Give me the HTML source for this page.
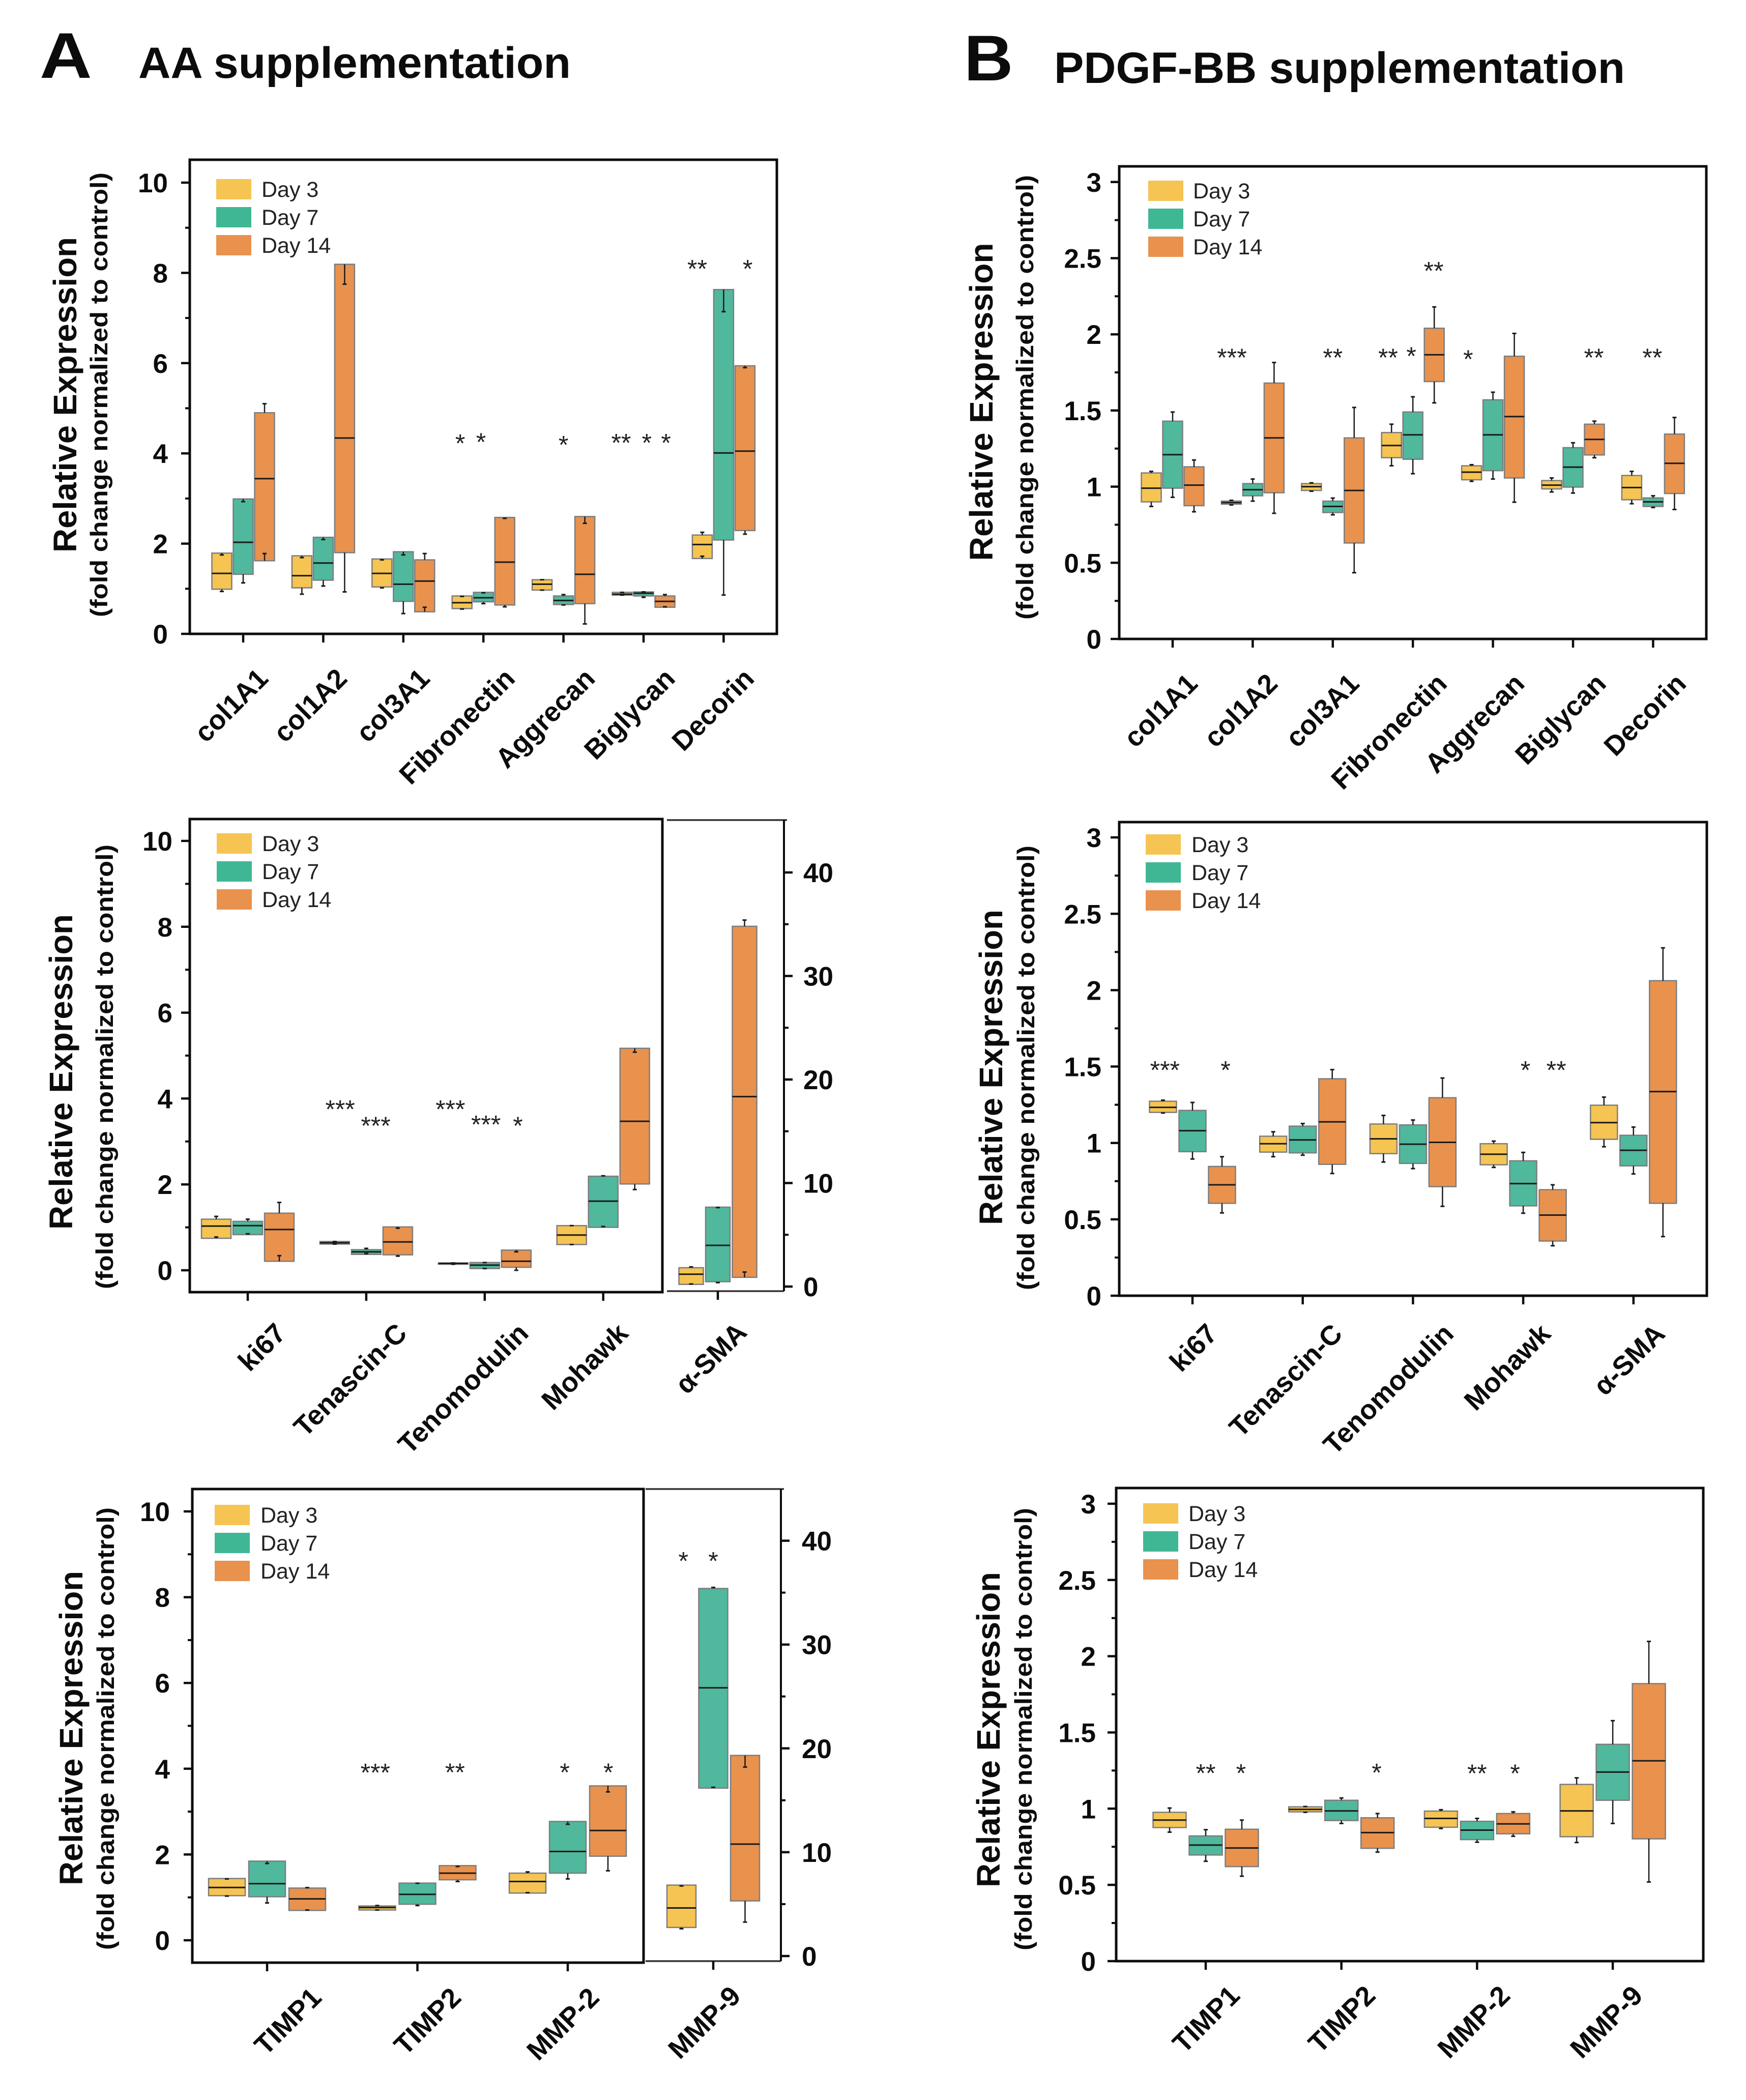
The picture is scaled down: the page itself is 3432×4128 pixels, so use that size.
<!DOCTYPE html>
<html lang="en">
<head>
<meta charset="utf-8">
<title>AA and PDGF-BB supplementation relative expression</title>
<style>
html,body{margin:0;padding:0;background:#fff;}
svg{display:block;font-family:"Liberation Sans",Arial,sans-serif;}
.b{font-weight:700;fill:#0c0c0c;}
</style>
</head>
<body>
<svg id="figure" xmlns="http://www.w3.org/2000/svg" width="3432" height="4128" viewBox="0 0 3432 4128">
<rect x="0" y="0" width="3432" height="4128" fill="#fff"/>
<text class="b" transform="translate(78,153) scale(1.12,1)" font-size="127">A</text>
<text class="b" x="272" y="153" font-size="86" textLength="850" lengthAdjust="spacingAndGlyphs">AA supplementation</text>
<text class="b" transform="translate(1895,158) scale(1.05,1)" font-size="127">B</text>
<text class="b" x="2072" y="163" font-size="86" textLength="1122" lengthAdjust="spacingAndGlyphs">PDGF-BB supplementation</text>

<text class="b" transform="translate(150,776) rotate(-90)" text-anchor="middle" font-size="64" textLength="620" lengthAdjust="spacingAndGlyphs">Relative Expression</text>
<text class="b" transform="translate(211,776) rotate(-90)" text-anchor="middle" font-size="47" textLength="874" lengthAdjust="spacingAndGlyphs">(fold change normalized to control)</text>
<text class="b" transform="translate(142,2107) rotate(-90)" text-anchor="middle" font-size="64" textLength="620" lengthAdjust="spacingAndGlyphs">Relative Expression</text>
<text class="b" transform="translate(222,2097) rotate(-90)" text-anchor="middle" font-size="47" textLength="874" lengthAdjust="spacingAndGlyphs">(fold change normalized to control)</text>
<text class="b" transform="translate(162,3397) rotate(-90)" text-anchor="middle" font-size="64" textLength="618" lengthAdjust="spacingAndGlyphs">Relative Expression</text>
<text class="b" transform="translate(224,3398) rotate(-90)" text-anchor="middle" font-size="47" textLength="870" lengthAdjust="spacingAndGlyphs">(fold change normalized to control)</text>
<text class="b" transform="translate(1951,790) rotate(-90)" text-anchor="middle" font-size="64" textLength="625" lengthAdjust="spacingAndGlyphs">Relative Expression</text>
<text class="b" transform="translate(2031,781) rotate(-90)" text-anchor="middle" font-size="47" textLength="874" lengthAdjust="spacingAndGlyphs">(fold change normalized to control)</text>
<text class="b" transform="translate(1970,2098) rotate(-90)" text-anchor="middle" font-size="64" textLength="620" lengthAdjust="spacingAndGlyphs">Relative Expression</text>
<text class="b" transform="translate(2033,2099) rotate(-90)" text-anchor="middle" font-size="47" textLength="874" lengthAdjust="spacingAndGlyphs">(fold change normalized to control)</text>
<text class="b" transform="translate(1965,3400) rotate(-90)" text-anchor="middle" font-size="64" textLength="620" lengthAdjust="spacingAndGlyphs">Relative Expression</text>
<text class="b" transform="translate(2028,3399) rotate(-90)" text-anchor="middle" font-size="47" textLength="870" lengthAdjust="spacingAndGlyphs">(fold change normalized to control)</text>
</svg>
<script>
// Every box is [q1, median, q3, whiskerLow, whiskerHigh]
const legendLabels = ['Day 3', 'Day 7', 'Day 14'];
const ticksA = [0, 2, 4, 6, 8, 10];
const tickLabelsA = ['0', '2', '4', '6', '8', '10'];
const ticksB = [0, 0.5, 1, 1.5, 2, 2.5, 3];
const tickLabelsB = ['0', '0.5', '1', '1.5', '2', '2.5', '3'];
const ticksRight = [0, 10, 20, 30, 40];
const tickLabelsRight = ['0', '10', '20', '30', '40'];

const matrixCategories = ['col1A1', 'col1A2', 'col3A1', 'Fibronectin', 'Aggrecan', 'Biglycan', 'Decorin'];
const markerCategories = ['ki67', 'Tenascin-C', 'Tenomodulin', 'Mohawk'];
const markerCategoriesWithSma = ['ki67', 'Tenascin-C', 'Tenomodulin', 'Mohawk', 'α-SMA'];
const smaCategory = ['α-SMA'];
const remodelCategories = ['TIMP1', 'TIMP2', 'MMP-2'];
const remodelCategoriesWithMmp9 = ['TIMP1', 'TIMP2', 'MMP-2', 'MMP-9'];
const mmp9Category = ['MMP-9'];

const a1Day3 = [[0.99,1.34,1.79,0.94,1.75],[1.02,1.29,1.73,0.88,1.69],[1.04,1.34,1.66,1.02,1.64],[0.56,0.69,0.84,0.55,0.83],[0.97,1.10,1.20,0.97,1.20],[0.86,0.88,0.92,0.86,0.92],[1.67,1.98,2.19,1.72,2.25]];
const a1Day7 = [[1.32,2.03,2.99,1.13,2.93],[1.19,1.57,2.14,1.06,2.09],[0.72,1.10,1.82,0.45,1.75],[0.71,0.80,0.92,0.67,0.91],[0.65,0.74,0.84,0.64,0.87],[0.84,0.90,0.93,0.81,0.93],[2.08,4.01,7.63,0.86,7.14]];
const a1Day14 = [[1.62,3.44,4.90,1.78,5.10],[1.80,4.34,8.19,0.93,7.75],[0.49,1.17,1.64,0.59,1.78],[0.64,1.59,2.58,0.60,2.56],[0.67,1.32,2.60,0.22,2.45],[0.59,0.72,0.84,0.60,0.87],[2.29,4.05,5.94,2.21,5.90]];
const a1StarText = ['*','*','*','**','*','*','**','*'];
const a1StarGroup = [2.71,2.97,4.00,4.72,5.04,5.28,5.67,6.30];
const a1StarLevel = [4.30,4.33,4.27,4.31,4.31,4.31,8.17,8.17];

const b1Day3 = [[0.90,0.99,1.09,0.87,1.10],[0.885,0.895,0.905,0.88,0.91],[0.975,1.00,1.02,0.97,1.025],[1.19,1.27,1.355,1.137,1.41],[1.045,1.095,1.137,1.035,1.144],[0.985,1.01,1.04,0.965,1.057],[0.914,0.994,1.073,0.888,1.10]];
const b1Day7 = [[0.99,1.21,1.43,0.93,1.49],[0.94,0.98,1.02,0.905,1.05],[0.83,0.87,0.905,0.815,0.925],[1.18,1.34,1.49,1.085,1.59],[1.105,1.34,1.57,1.05,1.62],[0.997,1.128,1.256,0.958,1.288],[0.87,0.90,0.926,0.863,0.94]];
const b1Day14 = [[0.875,1.01,1.13,0.835,1.175],[0.96,1.32,1.68,0.825,1.815],[0.63,0.975,1.32,0.435,1.52],[1.69,1.866,2.04,1.55,2.18],[1.057,1.46,1.856,0.898,2.006],[1.208,1.31,1.41,1.19,1.43],[0.955,1.153,1.345,0.85,1.454]];
const b1StarText = ['***','**','**','*','**','*','**','**'];
const b1StarGroup = [0.74,2.00,2.69,2.98,3.26,3.69,5.26,5.99];
const b1StarLevel = [1.87,1.87,1.87,1.88,2.44,1.86,1.87,1.87];

const a2Day3 = [[0.745,1.03,1.19,0.775,1.255],[0.61,0.64,0.67,0.61,0.67],[0.14,0.16,0.17,0.14,0.17],[0.60,0.82,1.04,0.60,1.04]];
const a2Day7 = [[0.83,1.04,1.14,0.85,1.19],[0.37,0.43,0.48,0.39,0.51],[0.04,0.12,0.18,0.04,0.18],[1.00,1.61,2.19,1.02,2.20]];
const a2Day14 = [[0.21,0.95,1.33,0.34,1.58],[0.36,0.66,1.01,0.33,0.98],[0.07,0.21,0.47,0.00,0.43],[2.01,3.47,5.17,1.88,5.08]];
const a2StarText = ['***','***','***','***','*'];
const a2StarGroup = [0.78,1.08,1.71,2.01,2.28];
const a2StarLevel = [3.83,3.45,3.83,3.48,3.45];
const a2SmaDay3 = [[0.21,1.19,1.82,0.25,1.90]];
const a2SmaDay7 = [[0.47,3.98,7.67,0.38,7.63]];
const a2SmaDay14 = [[0.89,18.35,34.8,1.40,35.4]];

const b2Day3 = [[1.20,1.233,1.273,1.196,1.28],[0.94,0.995,1.044,0.91,1.073],[0.93,1.027,1.124,0.875,1.18],[0.857,0.926,0.995,0.84,1.012],[1.024,1.133,1.247,0.975,1.30]];
const b2Day7 = [[0.943,1.08,1.213,0.895,1.265],[0.935,1.02,1.11,0.92,1.127],[0.866,0.992,1.118,0.832,1.15],[0.588,0.734,0.883,0.54,0.938],[0.85,0.952,1.05,0.797,1.104]];
const b2Day14 = [[0.605,0.726,0.846,0.542,0.91],[0.86,1.138,1.42,0.80,1.48],[0.714,1.004,1.296,0.585,1.425],[0.358,0.528,0.694,0.327,0.726],[0.605,1.336,2.062,0.387,2.277]];
const b2StarText = ['***','*','*','**'];
const b2StarGroup = [-0.25,0.30,3.02,3.30];
const b2StarLevel = [1.50,1.50,1.50,1.50];

const a3Day3 = [[1.04,1.23,1.44,1.03,1.43],[0.705,0.763,0.80,0.705,0.81],[1.10,1.37,1.565,1.11,1.594]];
const a3Day7 = [[1.015,1.32,1.845,0.87,1.79],[0.84,1.07,1.333,0.81,1.33],[1.565,2.07,2.77,1.43,2.705]];
const a3Day14 = [[0.696,0.966,1.217,0.705,1.227],[1.41,1.565,1.74,1.37,1.72],[1.96,2.56,3.60,1.62,3.46]];
const a3StarText = ['***','**','*','*'];
const a3StarGroup = [0.72,1.25,1.98,2.27];
const a3StarLevel = [3.99,4.00,4.00,4.00];
const a3Mmp9Day3 = [[2.75,4.63,6.83,2.63,6.75]];
const a3Mmp9Day7 = [[16.17,25.83,35.4,16.25,35.5]];
const a3Mmp9Day14 = [[5.31,10.78,19.32,3.27,18.2]];
const a3Mmp9StarText = ['*','*'];
const a3Mmp9StarGroup = [-0.47,0];
const a3Mmp9StarLevel = [38.4,38.4];

const b3Day3 = [[0.876,0.925,0.976,0.846,1.004],[0.979,0.995,1.012,0.976,1.014],[0.878,0.936,0.984,0.87,0.993],[0.816,0.985,1.159,0.778,1.202]];
const b3Day7 = [[0.696,0.761,0.821,0.655,0.862],[0.922,0.985,1.055,0.903,1.07],[0.797,0.859,0.917,0.78,0.936],[1.055,1.24,1.422,0.903,1.577]];
const b3Day14 = [[0.62,0.742,0.865,0.557,0.925],[0.74,0.843,0.94,0.715,0.968],[0.835,0.90,0.968,0.819,0.979],[0.802,1.314,1.82,0.519,2.097]];
const b3StarText = ['**','*','*','**','*'];
const b3StarGroup = [0,0.26,1.26,2.00,2.28];
const b3StarLevel = [1.256,1.256,1.26,1.255,1.255];

const NS = 'http://www.w3.org/2000/svg';
const figure = document.getElementById('figure');
const FILLS = ['#F5C452', '#4FB89D', '#E8924E'];
const LEGEND_FILLS = ['#F5C452', '#3FB795', '#E8924E'];

function node(tag, attrs, parent) {
  const n = document.createElementNS(NS, tag);
  for (const k in attrs) n.setAttribute(k, attrs[k]);
  parent.appendChild(n);
  return n;
}

function line(x1, y1, x2, y2, color, width, parent) {
  return node('line', {x1: x1, y1: y1, x2: x2, y2: y2, stroke: color, 'stroke-width': width}, parent);
}

function drawBoxes(p, cats, series, stars, yOf, id) {
  const g = node('g', {}, figure);
  
  
  cats.forEach(function (cat, i) {
    const cx = p.x0 + i * p.band;
    series.forEach(function (rows, s) {
      const r = rows[i];
      const bx = cx + (s - 1) * p.off;
      const hw = p.boxW / 2;
      const box = node('rect', {x: bx - hw, y: yOf(r[2]), width: p.boxW, height: Math.max(yOf(r[0]) - yOf(r[2]), 1), fill: FILLS[s], stroke: '#7d7d7d', 'stroke-width': 2.5}, g);
      
      
      const wh = line(bx, yOf(r[2]), bx, yOf(r[4]), '#1a1a1a', 2.5, g);
      
      
      const wl = line(bx, yOf(r[0]), bx, yOf(r[3]), '#1a1a1a', 2.5, g);
      
      
      line(bx - 4, yOf(r[4]), bx + 4, yOf(r[4]), '#1a1a1a', 3, g);
      line(bx - 4, yOf(r[3]), bx + 4, yOf(r[3]), '#1a1a1a', 3, g);
      const med = line(bx - hw, yOf(r[1]), bx + hw, yOf(r[1]), '#1a1a1a', 3, g);
      
      
    });
  });
  if (stars) {
    stars.text.forEach(function (t, i) {
      const st = node('text', {x: p.x0 + stars.group[i] * p.band, y: yOf(stars.level[i]) + 24, 'text-anchor': 'middle', 'font-size': 50, fill: '#222'}, g);
      st.textContent = t;
      
      
    });
  }
}

function drawXLabels(p, cats, id) {
  cats.forEach(function (cat, i) {
    const cx = p.x0 + i * p.band;
    const tk = line(cx, p.bottom, cx, p.bottom + 17, '#0c0c0c', 4.5, figure);
    
    
    const lx = cx + p.labelDx + p.labelNudge[i];
    const ly = p.bottom + p.labelDy;
    const lab = node('text', {x: lx, y: ly, 'text-anchor': 'end', 'font-size': 54, 'class': 'b', transform: 'rotate(-45 ' + lx + ' ' + ly + ')'}, figure);
    lab.textContent = cat;
    
    
  });
}

function drawYAxis(axisX, dir, y0, ppu, ticks, labels, gap, id) {
  const yOf = function (v) { return y0 - v * ppu; };
  ticks.forEach(function (v, i) {
    const tk = line(axisX, yOf(v), axisX + dir * 17, yOf(v), '#0c0c0c', 4.5, figure);
    
    
    const lab = node('text', {x: axisX + dir * gap, y: yOf(v) + 19, 'text-anchor': dir < 0 ? 'end' : 'start', 'font-size': 53, 'class': 'b'}, figure);
    lab.textContent = labels[i];
    
    
    if (i < ticks.length - 1) {
      const m = (v + ticks[i + 1]) / 2;
      const mt = line(axisX, yOf(m), axisX + dir * 9, yOf(m), '#0c0c0c', 4, figure);
      
      
    }
  });
  return yOf;
}

function drawLegend(x, top, step, textX, id) {
  legendLabels.forEach(function (label, i) {
    const sw = node('rect', {x: x, y: top + i * step, width: 69, height: 40, fill: LEGEND_FILLS[i]}, figure);
    
    
    const tx = node('text', {x: textX, y: top + i * step + 35, 'font-size': 43, fill: '#222'}, figure);
    tx.textContent = label;
    
    
  });
}

function drawFrame(left, right, top, bottom, width, id) {
  const fr = node('rect', {x: left, y: top, width: right - left, height: bottom - top, fill: 'none', stroke: '#0c0c0c', 'stroke-width': width}, figure);
  
  
}

function drawPanel(p, id, cats, tickCats, series, stars, ticks, labels) {
  const yOf = function (v) { return p.y0 - v * p.ppu; };
  drawBoxes(p, cats, series, stars, yOf, id);
  drawFrame(p.left, p.right, p.top, p.bottom, 5, id);
  drawYAxis(p.left, -1, p.y0, p.ppu, ticks, labels, p.gap, id);
  drawXLabels(p, tickCats, id);
  drawLegend(p.legX, p.legTop, p.legStep, p.legText, id);
}

function drawRightSegment(r, id, cats, series, stars) {
  const yOf = function (v) { return r.y0 - v * r.ppu; };
  drawBoxes(r, cats, series, stars, yOf, id);
  const t = line(r.left, r.top, r.right + 6, r.top, '#333', 3.5, figure);
  
  
  const b = line(r.left, r.bottom, r.right, r.bottom, '#333', 3.5, figure);
  
  
  const a = line(r.right, r.top, r.right, r.bottom, '#0c0c0c', 4, figure);
  
  
  drawYAxis(r.right, 1, r.y0, r.ppu, ticksRight, tickLabelsRight, r.gap, id);
  drawXLabels(r, cats, id);
}

drawPanel({left: 373, right: 1527, top: 314, bottom: 1246, y0: 1246, ppu: 88.7, x0: 478, band: 157.4, boxW: 39, off: 42, gap: 43, labelDx: 60, labelDy: 91, labelNudge: [-8, -10, -5, 5, 5, 5, 3], legX: 425, legTop: 352, legStep: 55, legText: 514},
  'a1', matrixCategories, matrixCategories, [a1Day3, a1Day7, a1Day14], {text: a1StarText, group: a1StarGroup, level: a1StarLevel}, ticksA, tickLabelsA);

drawPanel({left: 2200, right: 3354, top: 327, bottom: 1256, y0: 1256, ppu: 299.4, x0: 2305, band: 157.4, boxW: 39, off: 42, gap: 35, labelDx: 60, labelDy: 91, labelNudge: [-8, -8, -5, 10, 5, 8, 8], legX: 2257, legTop: 355, legStep: 55, legText: 2345},
  'b1', matrixCategories, matrixCategories, [b1Day3, b1Day7, b1Day14], {text: b1StarText, group: b1StarGroup, level: b1StarLevel}, ticksB, tickLabelsB);

drawPanel({left: 373, right: 1302, top: 1610, bottom: 2540, y0: 2497, ppu: 84.4, x0: 487, band: 232.9, boxW: 58, off: 62, gap: 34, labelDx: 65, labelDy: 84, labelNudge: [13, 18, 24, -13], legX: 426, legTop: 1638, legStep: 55, legText: 515},
  'a2', markerCategories, markerCategories, [a2Day3, a2Day7, a2Day14], {text: a2StarText, group: a2StarGroup, level: a2StarLevel}, ticksA, tickLabelsA);
drawRightSegment({left: 1311, right: 1541, top: 1612, bottom: 2538, y0: 2529, ppu: 20.35, x0: 1411, band: 125, boxW: 48, off: 52.5, gap: 38, labelDx: 60, labelDy: 84, labelNudge: [0]},
  'a2-sma', smaCategory, [a2SmaDay3, a2SmaDay7, a2SmaDay14], null);

drawPanel({left: 2200, right: 3355, top: 1616, bottom: 2547, y0: 2547, ppu: 300.3, x0: 2344, band: 216.7, boxW: 53, off: 58, gap: 35, labelDx: 65, labelDy: 78, labelNudge: [-13, 16, 18, -8, 0], legX: 2252, legTop: 1640, legStep: 55, legText: 2342},
  'b2', markerCategoriesWithSma, markerCategoriesWithSma, [b2Day3, b2Day7, b2Day14], {text: b2StarText, group: b2StarGroup, level: b2StarLevel}, ticksB, tickLabelsB);

drawPanel({left: 378, right: 1265, top: 2927, bottom: 3858, y0: 3814, ppu: 84.3, x0: 525, band: 295.5, boxW: 72, off: 79, gap: 44, labelDx: 65, labelDy: 72, labelNudge: [45, 24, 0], legX: 422, legTop: 2958, legStep: 55, legText: 512},
  'a3', remodelCategories, remodelCategories, [a3Day3, a3Day7, a3Day14], {text: a3StarText, group: a3StarGroup, level: a3StarLevel}, ticksA, tickLabelsA);
drawRightSegment({left: 1269, right: 1535, top: 2927, bottom: 3855, y0: 3845, ppu: 20.41, x0: 1402, band: 125, boxW: 57, off: 62.5, gap: 41, labelDx: 62, labelDy: 72, labelNudge: [-5]},
  'a3-mmp9', mmp9Category, [a3Mmp9Day3, a3Mmp9Day7, a3Mmp9Day14], {text: a3Mmp9StarText, group: a3Mmp9StarGroup, level: a3Mmp9StarLevel});

drawPanel({left: 2194, right: 3348, top: 2925, bottom: 3855, y0: 3855, ppu: 299.7, x0: 2370, band: 266.7, boxW: 65, off: 71, gap: 40, labelDx: 65, labelDy: 71, labelNudge: [5, 5, 3, -3], legX: 2247, legTop: 2955, legStep: 55, legText: 2336},
  'b3', remodelCategoriesWithMmp9, remodelCategoriesWithMmp9, [b3Day3, b3Day7, b3Day14], {text: b3StarText, group: b3StarGroup, level: b3StarLevel}, ticksB, tickLabelsB);
</script>
</body>
</html>
